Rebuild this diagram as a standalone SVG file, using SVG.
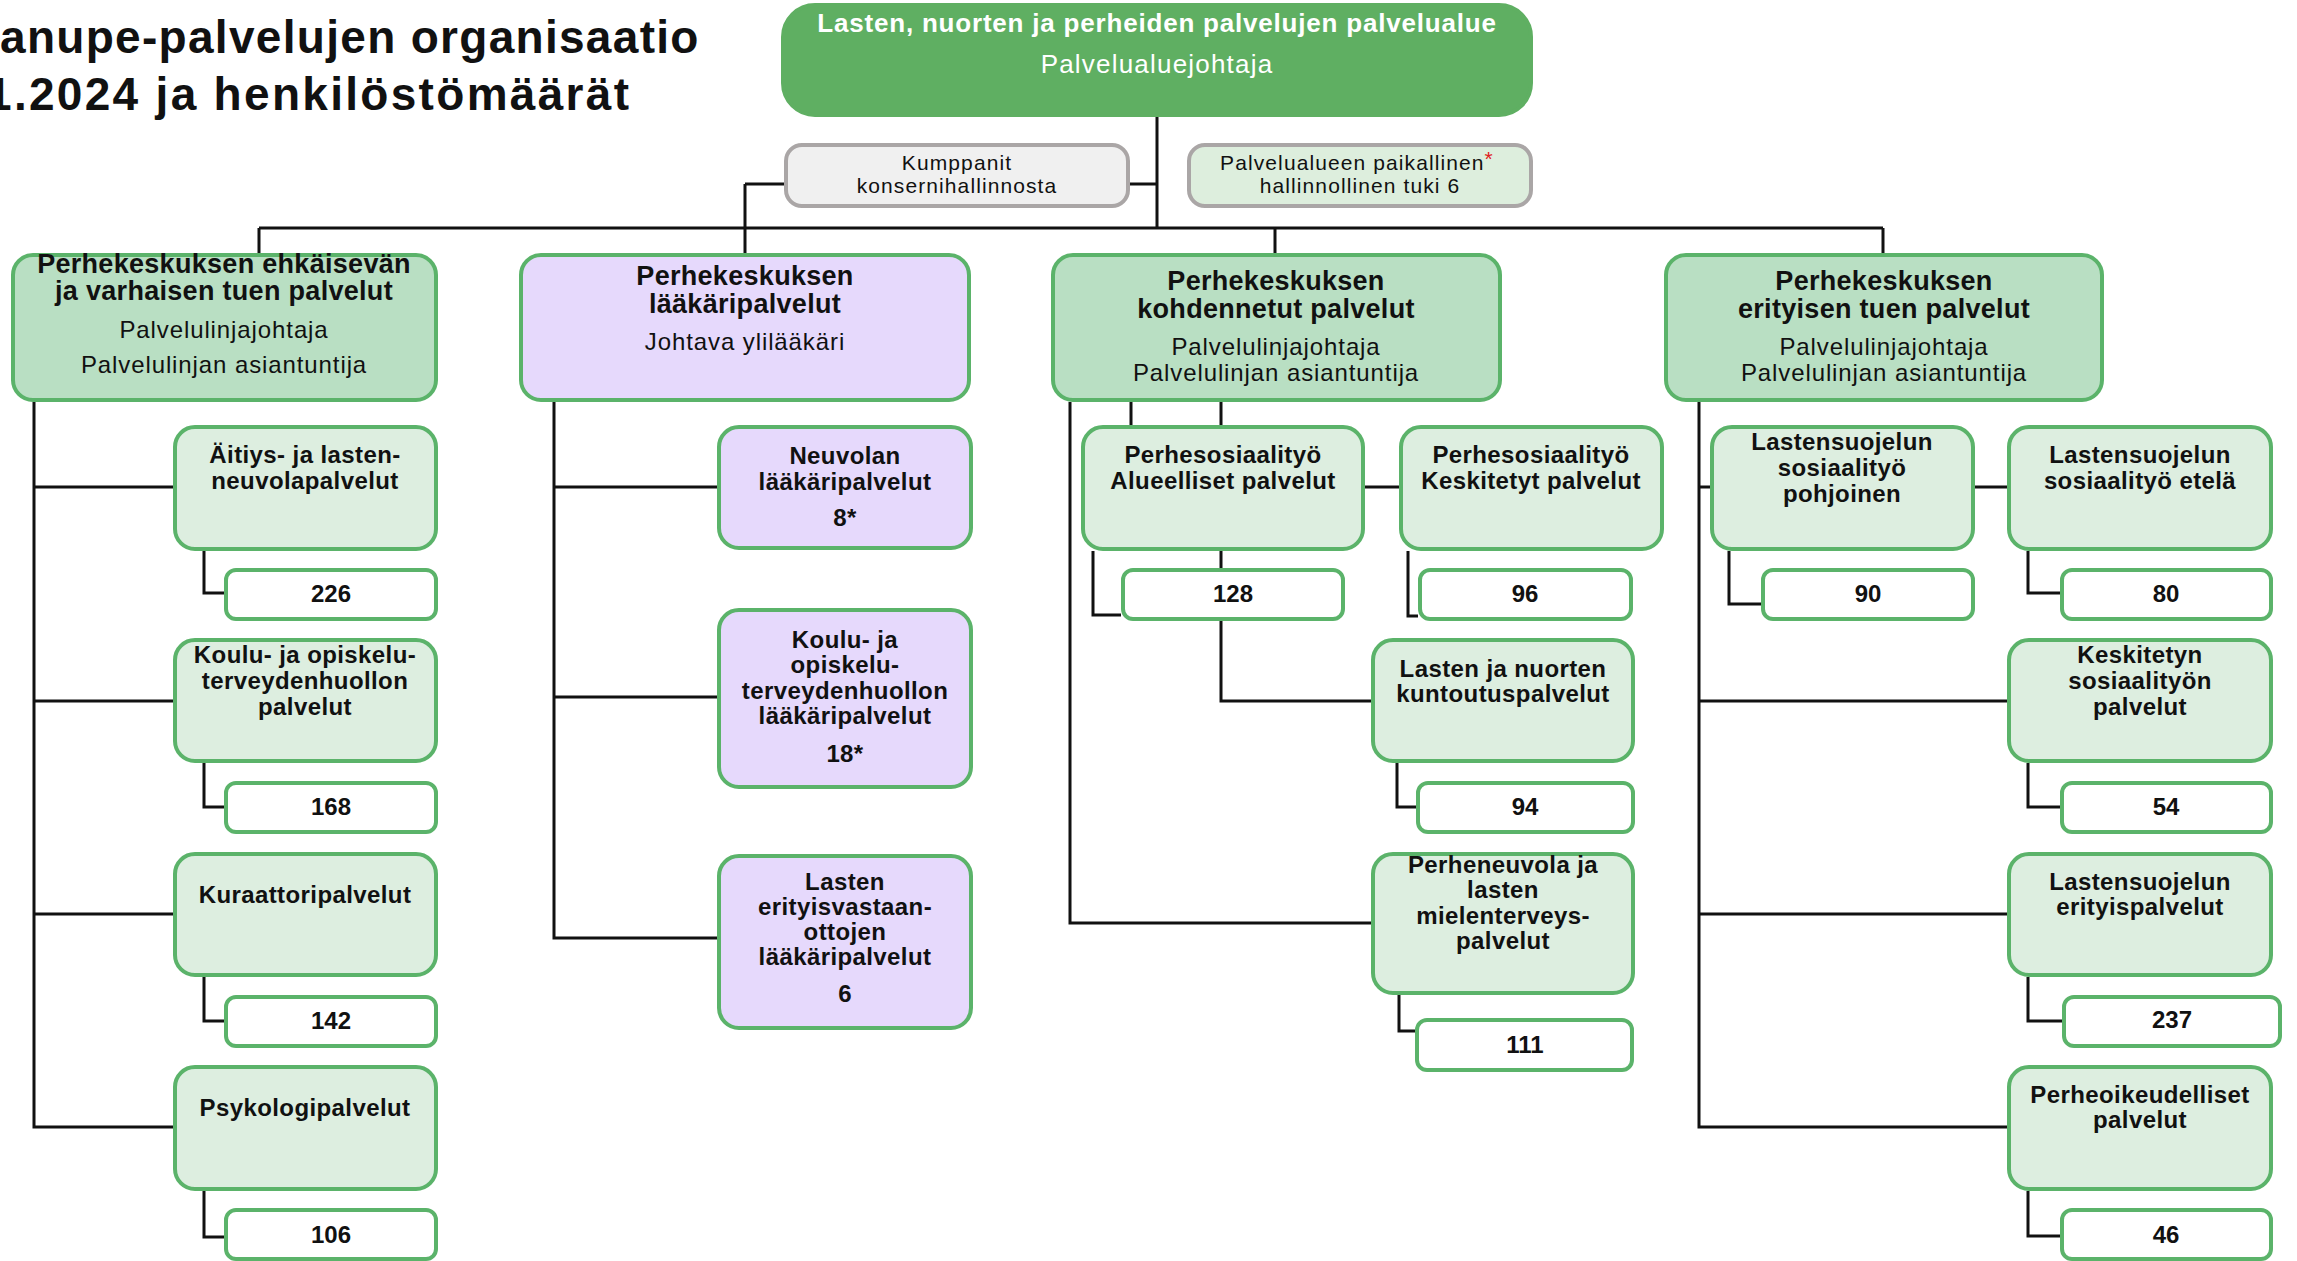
<svg xmlns="http://www.w3.org/2000/svg" width="2297" height="1261" viewBox="0 0 2297 1261">
<style>
text{font-family:"Liberation Sans",Arial,sans-serif;text-anchor:middle;fill:#111}
.title{font-size:46px;font-weight:bold;text-anchor:start;letter-spacing:1.3px}
.c{fill:none;stroke:#111;stroke-width:3}
.top{fill:#5faf62;stroke:#5faf62;stroke-width:4}
.g2{fill:#b9dfc3;stroke:#5bb36a;stroke-width:4}
.g3{fill:#ddeee0;stroke:#5bb36a;stroke-width:4}
.lv{fill:#e6d9fc;stroke:#5bb36a;stroke-width:4}
.nb{fill:#fff;stroke:#5bb36a;stroke-width:4}
.gr{fill:#f0f0f0;stroke:#aaa6a6;stroke-width:4}
.gg{fill:#ddeedd;stroke:#aaa6a6;stroke-width:4}
.tw{fill:#fff;font-size:26px;font-weight:bold;letter-spacing:0.8px}
.sw{fill:#fff;font-size:26px;letter-spacing:1.2px}
.sm{font-size:21px;letter-spacing:1.1px}
.t2{font-size:27px;font-weight:bold;letter-spacing:0.3px}
.s2{font-size:24px;letter-spacing:0.9px}
.t3{font-size:24px;font-weight:bold;letter-spacing:0.4px}
.n{font-size:24px;font-weight:bold}
.red{fill:#e02020}
</style>
<g id="title">
<text class="title" x="0" y="53">anupe-palvelujen organisaatio</text>
<text class="title" x="-14" y="110" style="letter-spacing:2.3px">1.2024 ja henkilöstömäärät</text>
</g>
<g id="connectors">
<path class="c" d="M1157,117V228M259,228H1883M259,228V253M745,184V253M745,184H784M1130,184H1157M1275,228V253M1883,228V253"/>
<path class="c" d="M34,402V1127H173M34,487H173M34,701H173M34,914H173M204,551V593H224M204,763V807H224M204,977V1021H224M204,1191V1237H224"/>
<path class="c" d="M554,402V938H717M554,487H717M554,697H717"/>
<path class="c" d="M1070,402V923H1371M1131,402V425M1221,402V701H1371M1365,487H1399M1093,551V615H1121M1408,551V616H1418M1397,763V807H1416M1399,995V1031H1415"/>
<path class="c" d="M1699,402V1127H2007M1699,487H1710M1699,701H2007M1699,914H2007M1975,487H2007M1729,551V604H1761M2028,551V593H2060M2028,763V807H2060M2028,977V1021H2062M2028,1191V1236H2060"/>
</g>
<g id="n-top">
<rect class="top" x="783" y="5" width="748" height="110" rx="32"/>
<text class="tw" x="1157" y="32">Lasten, nuorten ja perheiden palvelujen palvelualue</text>
<text class="sw" x="1157" y="73">Palvelualuejohtaja</text>
</g>
<g id="n-kumppanit">
<rect class="gr" x="786" y="145" width="342" height="61" rx="16"/>
<text class="sm" x="957" y="170">Kumppanit</text>
<text class="sm" x="957" y="193">konsernihallinnosta</text>
</g>
<g id="n-tuki">
<rect class="gg" x="1189" y="145" width="342" height="61" rx="16"/>
<text class="sm" x="1357" y="170">Palvelualueen paikallinen<tspan class="red" dy="-4">*</tspan></text>
<text class="sm" x="1360" y="193">hallinnollinen tuki 6</text>
</g>
<g id="n-ehkaiseva">
<rect class="g2" x="13" y="255" width="423" height="145" rx="20"/>
<text class="t2" x="224" y="273">Perhekeskuksen ehkäisevän</text>
<text class="t2" x="224" y="300">ja varhaisen tuen palvelut</text>
<text class="s2" x="224" y="338">Palvelulinjajohtaja</text>
<text class="s2" x="224" y="373">Palvelulinjan asiantuntija</text>
</g>
<g id="n-laakari">
<rect class="lv" x="521" y="255" width="448" height="145" rx="20"/>
<text class="t2" x="745" y="285">Perhekeskuksen</text>
<text class="t2" x="745" y="313">lääkäripalvelut</text>
<text class="s2" x="745" y="350">Johtava ylilääkäri</text>
</g>
<g id="n-kohdennetut">
<rect class="g2" x="1053" y="255" width="447" height="145" rx="20"/>
<text class="t2" x="1276" y="290">Perhekeskuksen</text>
<text class="t2" x="1276" y="318">kohdennetut palvelut</text>
<text class="s2" x="1276" y="355">Palvelulinjajohtaja</text>
<text class="s2" x="1276" y="381">Palvelulinjan asiantuntija</text>
</g>
<g id="n-erityinen">
<rect class="g2" x="1666" y="255" width="436" height="145" rx="20"/>
<text class="t2" x="1884" y="290">Perhekeskuksen</text>
<text class="t2" x="1884" y="318">erityisen tuen palvelut</text>
<text class="s2" x="1884" y="355">Palvelulinjajohtaja</text>
<text class="s2" x="1884" y="381">Palvelulinjan asiantuntija</text>
</g>
<g id="n-aitiys">
<rect class="g3" x="175" y="427" width="261" height="122" rx="20"/>
<text class="t3" x="305" y="463">Äitiys- ja lasten-</text>
<text class="t3" x="305" y="489">neuvolapalvelut</text>
</g>
<g id="n-226"><rect class="nb" x="226" y="570" width="210" height="49" rx="10"/><text class="n" x="331" y="602">226</text></g>
<g id="n-koulu">
<rect class="g3" x="175" y="640" width="261" height="121" rx="20"/>
<text class="t3" x="305" y="663">Koulu- ja opiskelu-</text>
<text class="t3" x="305" y="689">terveydenhuollon</text>
<text class="t3" x="305" y="715">palvelut</text>
</g>
<g id="n-168"><rect class="nb" x="226" y="783" width="210" height="49" rx="10"/><text class="n" x="331" y="815">168</text></g>
<g id="n-kuraattori">
<rect class="g3" x="175" y="854" width="261" height="121" rx="20"/>
<text class="t3" x="305" y="903">Kuraattoripalvelut</text>
</g>
<g id="n-142"><rect class="nb" x="226" y="997" width="210" height="49" rx="10"/><text class="n" x="331" y="1029">142</text></g>
<g id="n-psykologi">
<rect class="g3" x="175" y="1067" width="261" height="122" rx="20"/>
<text class="t3" x="305" y="1116">Psykologipalvelut</text>
</g>
<g id="n-106"><rect class="nb" x="226" y="1210" width="210" height="49" rx="10"/><text class="n" x="331" y="1243">106</text></g>
<g id="n-neuvolanlaak">
<rect class="lv" x="719" y="427" width="252" height="121" rx="20"/>
<text class="t3" x="845" y="464">Neuvolan</text>
<text class="t3" x="845" y="490">lääkäripalvelut</text>
<text class="t3" x="845" y="526">8*</text>
</g>
<g id="n-koululaak">
<rect class="lv" x="719" y="610" width="252" height="177" rx="20"/>
<text class="t3" x="845" y="648">Koulu- ja</text>
<text class="t3" x="845" y="673">opiskelu-</text>
<text class="t3" x="845" y="699">terveydenhuollon</text>
<text class="t3" x="845" y="724">lääkäripalvelut</text>
<text class="t3" x="845" y="762">18*</text>
</g>
<g id="n-erikoislaak">
<rect class="lv" x="719" y="856" width="252" height="172" rx="20"/>
<text class="t3" x="845" y="890">Lasten</text>
<text class="t3" x="845" y="915">erityisvastaan-</text>
<text class="t3" x="845" y="940">ottojen</text>
<text class="t3" x="845" y="965">lääkäripalvelut</text>
<text class="t3" x="845" y="1002">6</text>
</g>
<g id="n-alueelliset">
<rect class="g3" x="1083" y="427" width="280" height="122" rx="20"/>
<text class="t3" x="1223" y="463">Perhesosiaalityö</text>
<text class="t3" x="1223" y="489">Alueelliset palvelut</text>
</g>
<g id="n-128"><rect class="nb" x="1123" y="570" width="220" height="49" rx="10"/><text class="n" x="1233" y="602">128</text></g>
<g id="n-keskitetyt">
<rect class="g3" x="1401" y="427" width="261" height="122" rx="20"/>
<text class="t3" x="1531" y="463">Perhesosiaalityö</text>
<text class="t3" x="1531" y="489">Keskitetyt palvelut</text>
</g>
<g id="n-96"><rect class="nb" x="1420" y="570" width="211" height="49" rx="10"/><text class="n" x="1525" y="602">96</text></g>
<g id="n-kuntoutus">
<rect class="g3" x="1373" y="640" width="260" height="121" rx="20"/>
<text class="t3" x="1503" y="677">Lasten ja nuorten</text>
<text class="t3" x="1503" y="702">kuntoutuspalvelut</text>
</g>
<g id="n-94"><rect class="nb" x="1418" y="783" width="215" height="49" rx="10"/><text class="n" x="1525" y="815">94</text></g>
<g id="n-perheneuvola">
<rect class="g3" x="1373" y="854" width="260" height="139" rx="20"/>
<text class="t3" x="1503" y="873">Perheneuvola ja</text>
<text class="t3" x="1503" y="898">lasten</text>
<text class="t3" x="1503" y="924">mielenterveys-</text>
<text class="t3" x="1503" y="949">palvelut</text>
</g>
<g id="n-111"><rect class="nb" x="1417" y="1020" width="215" height="50" rx="10"/><text class="n" x="1525" y="1053">111</text></g>
<g id="n-pohjoinen">
<rect class="g3" x="1712" y="427" width="261" height="122" rx="20"/>
<text class="t3" x="1842" y="450">Lastensuojelun</text>
<text class="t3" x="1842" y="476">sosiaalityö</text>
<text class="t3" x="1842" y="502">pohjoinen</text>
</g>
<g id="n-90"><rect class="nb" x="1763" y="570" width="210" height="49" rx="10"/><text class="n" x="1868" y="602">90</text></g>
<g id="n-etela">
<rect class="g3" x="2009" y="427" width="262" height="122" rx="20"/>
<text class="t3" x="2140" y="463">Lastensuojelun</text>
<text class="t3" x="2140" y="489">sosiaalityö etelä</text>
</g>
<g id="n-80"><rect class="nb" x="2062" y="570" width="209" height="49" rx="10"/><text class="n" x="2166" y="602">80</text></g>
<g id="n-keskitetyn">
<rect class="g3" x="2009" y="640" width="262" height="121" rx="20"/>
<text class="t3" x="2140" y="663">Keskitetyn</text>
<text class="t3" x="2140" y="689">sosiaalityön</text>
<text class="t3" x="2140" y="715">palvelut</text>
</g>
<g id="n-54"><rect class="nb" x="2062" y="783" width="209" height="49" rx="10"/><text class="n" x="2166" y="815">54</text></g>
<g id="n-erityispalvelut">
<rect class="g3" x="2009" y="854" width="262" height="121" rx="20"/>
<text class="t3" x="2140" y="890">Lastensuojelun</text>
<text class="t3" x="2140" y="915">erityispalvelut</text>
</g>
<g id="n-237"><rect class="nb" x="2064" y="997" width="216" height="49" rx="10"/><text class="n" x="2172" y="1028">237</text></g>
<g id="n-perheoikeus">
<rect class="g3" x="2009" y="1067" width="262" height="122" rx="20"/>
<text class="t3" x="2140" y="1103">Perheoikeudelliset</text>
<text class="t3" x="2140" y="1128">palvelut</text>
</g>
<g id="n-46"><rect class="nb" x="2062" y="1210" width="209" height="49" rx="10"/><text class="n" x="2166" y="1243">46</text></g>
</svg>
